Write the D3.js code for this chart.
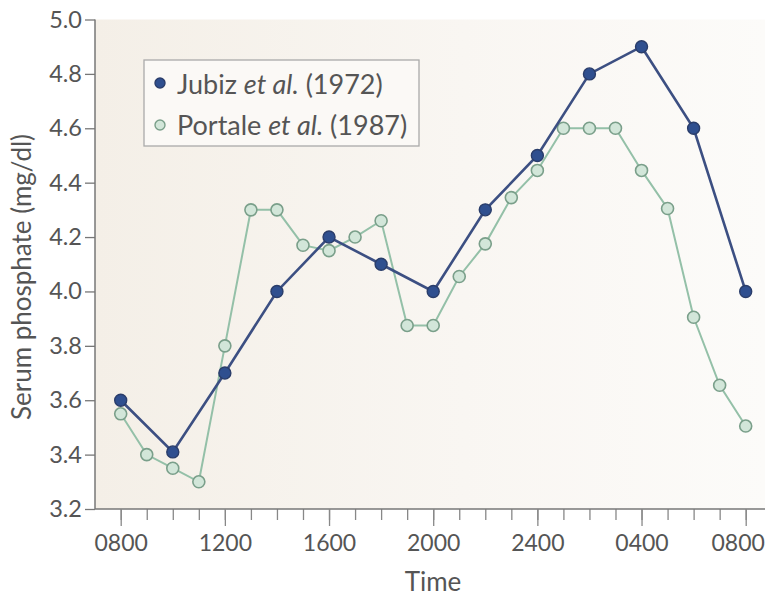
<!DOCTYPE html>
<html><head><meta charset="utf-8">
<script src="https://cdn.jsdelivr.net/npm/d3@7"></script>
<style>body{margin:0;background:#fff}svg{display:block}text{font-family:Lato,"Open Sans",sans-serif;fill:#555}</style>
</head><body><svg id="c" width="770" height="596"></svg>
<script>
// hours since 0800 on day 1
const jubizHours = [0,2,4,6,8,10,12,14,16,18,20,22,24];
const jubizValues = [3.6,3.41,3.7,4.0,4.2,4.1,4.0,4.3,4.5,4.8,4.9,4.6,4.0];
const portaleHours = [0,1,2,3,4,5,6,7,8,9,10,11,12,13,14,15,16,17,18,19,20,21,22,23,24];
const portaleValues = [3.55,3.4,3.35,3.3,3.8,4.3,4.3,4.17,4.15,4.2,4.26,3.875,3.875,4.055,4.175,4.345,4.445,4.6,4.6,4.6,4.445,4.305,3.905,3.655,3.505];
const xTickHours = [0,4,8,12,16,20,24];
const xTickLabels = ["0800","1200","1600","2000","2400","0400","0800"];
const yTicks = [3.2,3.4,3.6,3.8,4.0,4.2,4.4,4.6,4.8,5.0];
const seriesNames = ["Jubiz","Portale"];

const svg = d3.select("#c");
const L=95, R=765, T=19.5, B=509;
const x = d3.scaleLinear().domain([0,24]).range([120.7,745.7]);
const y = d3.scaleLinear().domain([3.2,5.0]).range([B,T]);

const defs = svg.append("defs");
const g = defs.append("linearGradient").attr("id","bg").attr("x1","0").attr("x2","1").attr("y1","0").attr("y2","0");
g.append("stop").attr("offset","0").attr("stop-color","#f4efe7");
g.append("stop").attr("offset","0.55").attr("stop-color","#f9f6f2");
g.append("stop").attr("offset","1").attr("stop-color","#fcfbf9");
svg.append("rect").attr("x",L).attr("y",T).attr("width",R-L).attr("height",B-T).attr("fill","url(#bg)");

// y axis
const yAxis = svg.append("g").attr("transform",`translate(${L},0)`)
  .call(d3.axisLeft(y).tickValues(yTicks).tickFormat(d3.format(".1f")).tickSize(10).tickPadding(3));
yAxis.select(".domain").attr("stroke","#777").attr("stroke-width",1.5).attr("d",`M0,${T}V${B}`);
yAxis.selectAll(".tick line").attr("stroke","#777").attr("stroke-width",1.3);
yAxis.selectAll(".tick text").attr("font-size",23.5).style("fill","#555");

// x axis minor ticks
const xMinor = svg.append("g").attr("transform",`translate(0,${B})`)
  .call(d3.axisBottom(x).tickValues(d3.range(0,25)).tickSize(11).tickFormat(""));
xMinor.select(".domain").remove();
xMinor.selectAll(".tick line").attr("stroke","#888").attr("stroke-width",1.3);
const xAxis = svg.append("g").attr("transform",`translate(0,${B})`)
  .call(d3.axisBottom(x).tickValues(xTickHours).tickSize(17).tickPadding(9).tickFormat((d,i)=>xTickLabels[i]));
xAxis.select(".domain").attr("stroke","#777").attr("stroke-width",1.5).attr("d",`M${L},0H${R}`);
xAxis.selectAll(".tick line").attr("stroke","#888").attr("stroke-width",1.3);
xAxis.selectAll(".tick text").attr("font-size",23).style("fill","#555")
  .attr("dx",(d,i)=> i===xTickHours.length-1 ? -8 : 0);

svg.append("text").attr("x",433).attr("y",591).attr("text-anchor","middle").attr("font-size",26).text("Time");
svg.append("text").attr("transform","translate(31,277) rotate(-90)").attr("text-anchor","middle").attr("font-size",26).text("Serum phosphate (mg/dl)");

const line = d3.line().x(d=>x(d[0])).y(d=>y(d[1]));
const portale = portaleHours.map((h,i)=>[h,portaleValues[i]]);
const jubiz = jubizHours.map((h,i)=>[h,jubizValues[i]]);

svg.append("path").datum(portale).attr("d",line).attr("fill","none").attr("stroke","#94c0a8").attr("stroke-width",2);
svg.selectAll(".pp").data(portale).enter().append("circle")
  .attr("cx",d=>x(d[0])).attr("cy",d=>y(d[1])).attr("r",6)
  .attr("fill","#d2e6d9").attr("stroke","#7a9f8a").attr("stroke-width",1.6);

svg.append("path").datum(jubiz).attr("d",line).attr("fill","none").attr("stroke","#3c4f82").attr("stroke-width",2.6);
svg.selectAll(".jp").data(jubiz).enter().append("circle")
  .attr("cx",d=>x(d[0])).attr("cy",d=>y(d[1])).attr("r",6)
  .attr("fill","#2f4f8f").attr("stroke","#2a3d6a").attr("stroke-width",1.4);

// legend
svg.append("rect").attr("x",144).attr("y",60).attr("width",275).attr("height",86)
  .attr("fill","#fbf9f6").attr("stroke","#aaa").attr("stroke-width",1.3);
const leg = [
  {name:seriesNames[0], fill:"#2f4f8f", stroke:"#2a3d6a", cy:83, base:94, pre:"Jubiz ", yr:" (1972)"},
  {name:seriesNames[1], fill:"#d2e6d9", stroke:"#7a9f8a", cy:125, base:135, pre:"Portale ", yr:" (1987)"}
];
leg.forEach(l=>{
  svg.append("circle").attr("cx",160).attr("cy",l.cy).attr("r",5).attr("fill",l.fill).attr("stroke",l.stroke).attr("stroke-width",1.4);
  const t = svg.append("text").attr("x",177).attr("y",l.base).attr("font-size",27);
  t.append("tspan").text(l.pre);
  t.append("tspan").attr("font-style","italic").text("et al.");
  t.append("tspan").text(l.yr);
});
</script></body></html>
